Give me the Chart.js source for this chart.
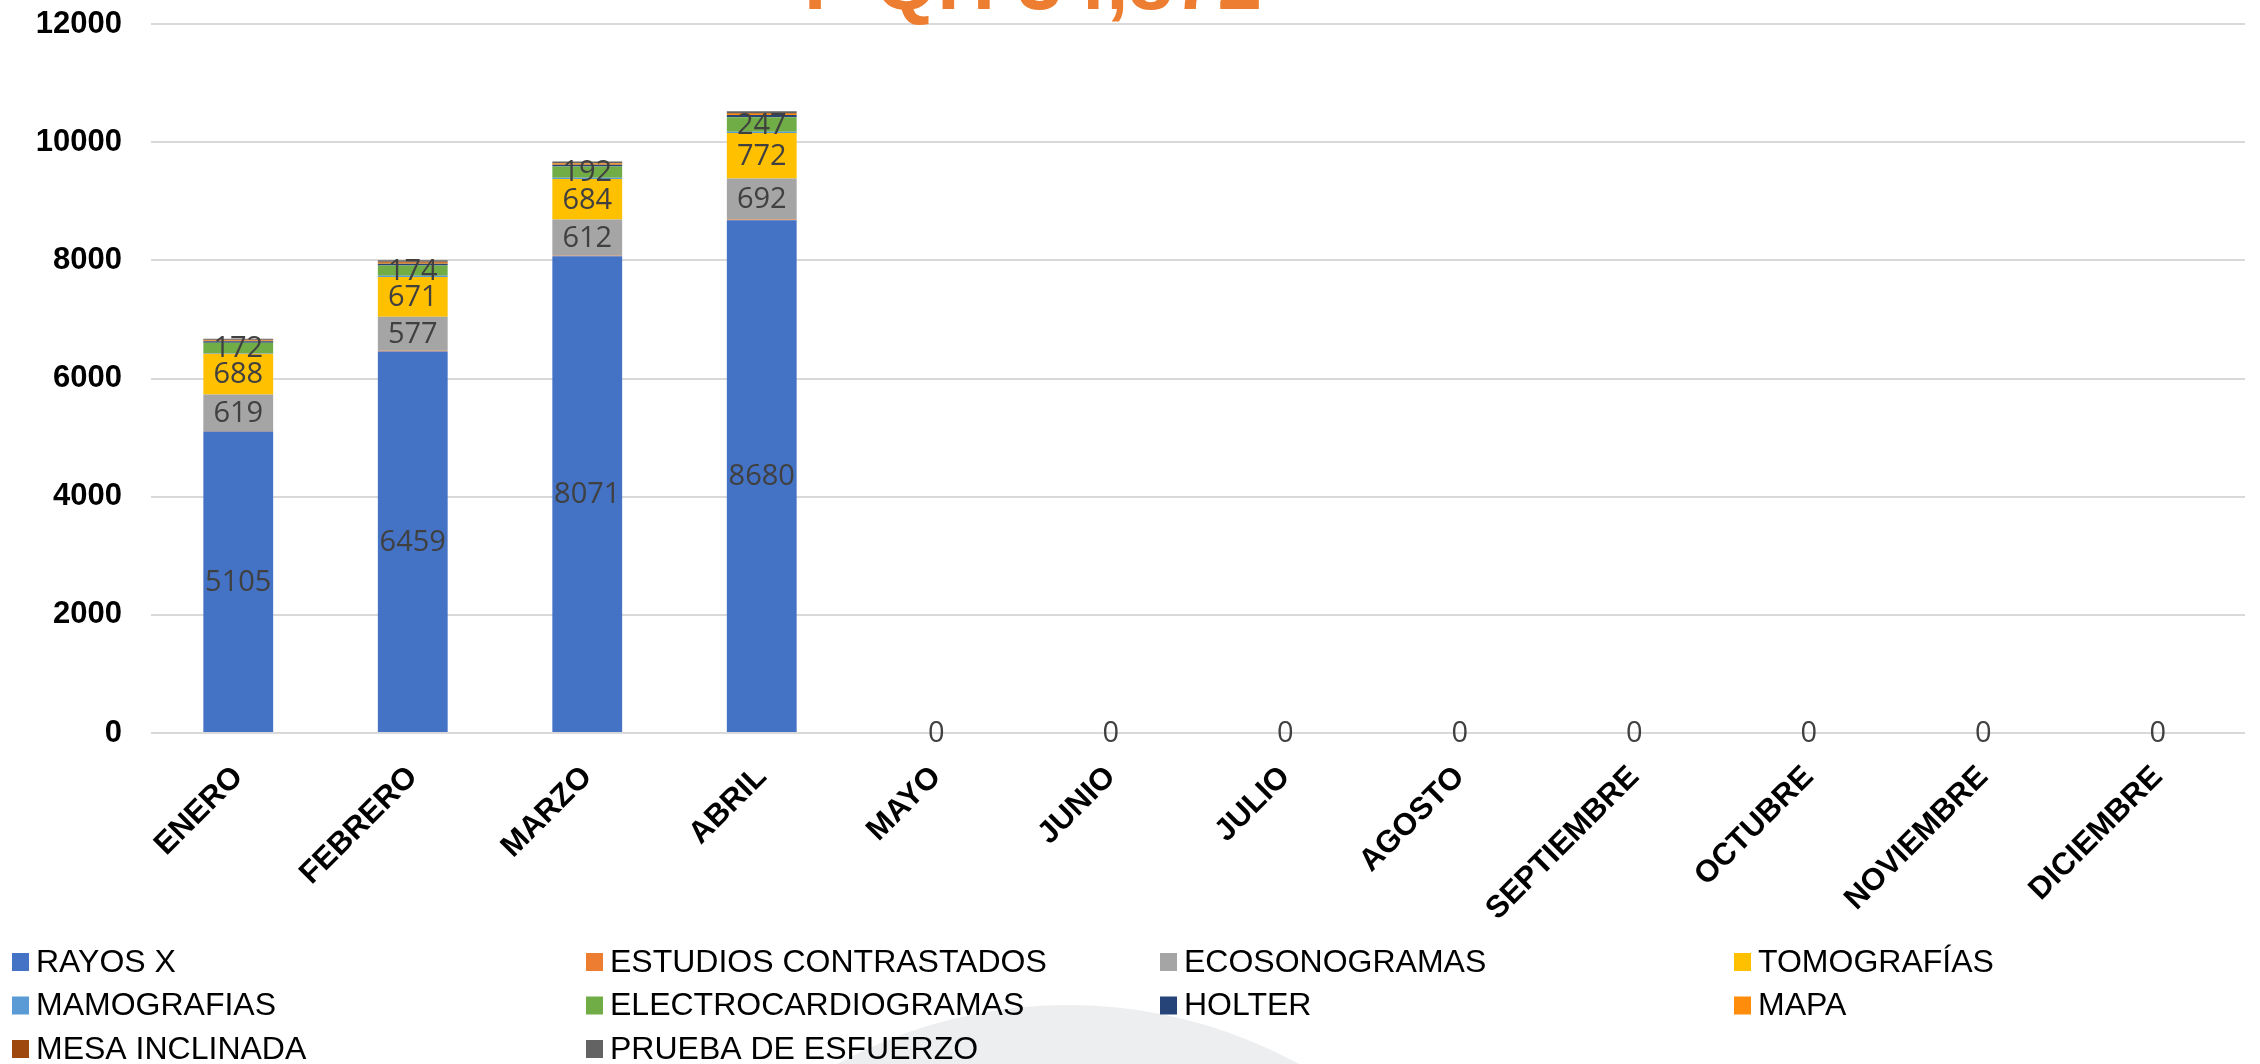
<!DOCTYPE html>
<html>
<head>
<meta charset="utf-8">
<script src="https://cdn.jsdelivr.net/npm/chart.js@4.4.1/dist/chart.umd.min.js"></script>
<style>
    html, body { margin: 0; padding: 0; background: #fff; overflow: hidden; }
    #wrap { position: relative; width: 2260px; height: 1064px; }
</style>
</head>
<body>
<div id="wrap"><canvas id="examChart"></canvas></div>
<script>
var meses = ['ENERO', 'FEBRERO', 'MARZO', 'ABRIL', 'MAYO', 'JUNIO', 'JULIO', 'AGOSTO',
    'SEPTIEMBRE', 'OCTUBRE', 'NOVIEMBRE', 'DICIEMBRE'];

var rayosX               = [5105, 6459, 8071, 8680, 0, 0, 0, 0, 0, 0, 0, 0];
var estudiosContrastados = [5, 10, 8, 12, 0, 0, 0, 0, 0, 0, 0, 0];
var ecosonogramas        = [619, 577, 612, 692, 0, 0, 0, 0, 0, 0, 0, 0];
var tomografias          = [688, 671, 684, 772, 0, 0, 0, 0, 0, 0, 0, 0];
var mamografias          = [15, 20, 22, 20, 0, 0, 0, 0, 0, 0, 0, 0];
var electrocardiogramas  = [172, 174, 192, 247, 0, 0, 0, 0, 0, 0, 0, 0];
var holter               = [25, 30, 30, 35, 0, 0, 0, 0, 0, 0, 0, 0];
var mapa                 = [15, 20, 18, 22, 0, 0, 0, 0, 0, 0, 0, 0];
var mesaInclinada        = [10, 14, 12, 15, 0, 0, 0, 0, 0, 0, 0, 0];
var pruebaEsfuerzo       = [20, 25, 24, 30, 0, 0, 0, 0, 0, 0, 0, 0];

var yTicks = [0, 2000, 4000, 6000, 8000, 10000, 12000];
var tituloTexto = 'F QH 34,872';

function serie(label, data, color, showValues, showZero){
    return {
        label: label,
        data: data,
        backgroundColor: color,
        borderWidth: 0,
        showValues: showValues,
        showZero: showZero
    };
}

// fondo, titulo, etiquetas de valores y leyenda en rejilla
var extras = {
    id: 'extras',
    beforeDraw: function(chart){
        var ctx = chart.ctx;
        ctx.save();
        ctx.fillStyle = '#EDEEF0';
        ctx.beginPath();
        ctx.arc(1068, 1487, 482, 0, Math.PI * 2);
        ctx.fill();
        ctx.restore();
    },
    afterDatasetsDraw: function(chart){
        var ctx = chart.ctx;
        ctx.save();
        ctx.font = '29px "Open Sans"';
        ctx.fillStyle = '#404040';
        ctx.textAlign = 'center';
        ctx.textBaseline = 'middle';
        chart.data.datasets.forEach(function(ds, di){
            if (!ds.showValues) return;
            chart.getDatasetMeta(di).data.forEach(function(bar, i){
                var v = ds.data[i];
                if (v === 0 && !ds.showZero) return;
                ctx.fillText(String(v), bar.x, (bar.y + bar.base) / 2 + 1);
            });
        });
        ctx.restore();
    },
    afterDraw: function(chart){
        var ctx = chart.ctx;
        ctx.save();
        ctx.font = 'bold 80px "Liberation Sans"';
        ctx.fillStyle = '#ED7D31';
        ctx.textAlign = 'left';
        ctx.textBaseline = 'alphabetic';
        ctx.fillText(tituloTexto, 804, 9);

        ctx.font = '32px "Liberation Sans"';
        ctx.textBaseline = 'middle';
        chart.data.datasets.forEach(function(ds, i){
            var col = i % 4, row = Math.floor(i / 4);
            var x = 12 + col * 574;
            var y = 962 + row * 43.5;
            ctx.fillStyle = ds.backgroundColor;
            ctx.fillRect(x, y - 9, 17, 18);
            ctx.fillStyle = '#000';
            ctx.fillText(ds.label, x + 24, y + 1);
        });
        ctx.restore();
    }
};

document.addEventListener('DOMContentLoaded', function(){
    var ctx = document.getElementById('examChart').getContext('2d');
    var myChart = new Chart(ctx, {
        type: 'bar',
        data: {
            labels: meses,
            datasets: [
                serie('RAYOS X', rayosX, '#4472C4', true, true),
                serie('ESTUDIOS CONTRASTADOS', estudiosContrastados, '#ED7D31', false, false),
                serie('ECOSONOGRAMAS', ecosonogramas, '#A5A5A5', true, false),
                serie('TOMOGRAFÍAS', tomografias, '#FFC000', true, false),
                serie('MAMOGRAFIAS', mamografias, '#5B9BD5', false, false),
                serie('ELECTROCARDIOGRAMAS', electrocardiogramas, '#70AD47', true, false),
                serie('HOLTER', holter, '#264478', false, false),
                serie('MAPA', mapa, '#FF8C0A', false, false),
                serie('MESA INCLINADA', mesaInclinada, '#9E480E', false, false),
                serie('PRUEBA DE ESFUERZO', pruebaEsfuerzo, '#636363', false, false)
            ]
        },
        options: {
            responsive: true,
            maintainAspectRatio: false,
            animation: false,
            categoryPercentage: 1,
            barPercentage: 0.4,
            layout: {
                padding: { top: 24, right: 15, bottom: 131, left: 0 }
            },
            scales: {
                x: {
                    stacked: true,
                    grid: { display: false },
                    border: { display: false },
                    afterFit: function(scale){
                        scale.height = 200;
                        scale.paddingLeft = 0;
                        scale.paddingRight = 0;
                    },
                    ticks: {
                        color: '#000',
                        font: { family: '"Liberation Sans"', size: 31, weight: 'bold' },
                        minRotation: 45,
                        maxRotation: 45,
                        autoSkip: false,
                        padding: 18
                    }
                },
                y: {
                    stacked: true,
                    min: 0,
                    max: 12000,
                    afterFit: function(scale){
                        scale.width = 151;
                        scale.paddingTop = 0;
                        scale.paddingBottom = 0;
                    },
                    afterBuildTicks: function(scale){
                        scale.ticks = yTicks.map(function(v){ return { value: v }; });
                    },
                    grid: { color: '#D9D9D9', lineWidth: 2, drawTicks: false },
                    border: { display: false },
                    ticks: {
                        color: '#000',
                        font: { family: '"Liberation Sans"', size: 31, weight: 'bold' },
                        padding: 29,
                        callback: function(v){ return String(v); }
                    }
                }
            },
            plugins: {
                legend: { display: false },
                tooltip: { enabled: false }
            }
        },
        plugins: [extras]
    });
});
</script>
</body>
</html>
